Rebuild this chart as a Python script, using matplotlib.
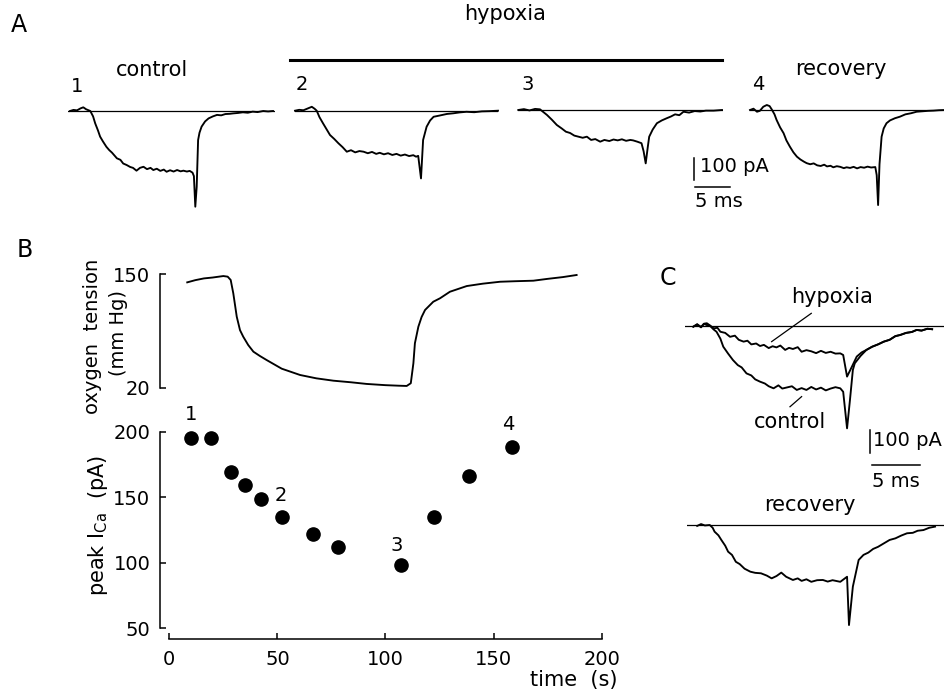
import matplotlib
matplotlib.use("Agg")
import matplotlib.pyplot as plt
from matplotlib.lines import Line2D

plt.rcParams['font.family'] = ['DejaVu Sans']

# ---------------- data ----------------
# Panel A traces: time (ms), current (pA)
t1 = [0, 0.5, 1.0, 1.5, 1.9, 2.3, 2.9, 3.3, 3.6, 4.0, 4.3, 4.7, 5.2, 5.6, 6.0, 6.7, 7.2, 7.6, 8.1, 8.6, 9.0,
      9.5, 10.0, 10.5, 11.0, 11.5, 11.9, 12.4, 12.9, 13.4, 13.8, 14.3, 14.8, 15.3, 15.8, 16.2, 16.7, 17.1,
      17.5, 17.7, 17.9, 18.1, 18.3, 18.5, 18.8, 19.3, 19.8, 20.4, 21.0, 21.6, 22.2, 22.8, 23.3, 24.0, 24.7,
      25.4, 26.1, 26.8, 27.6, 28.3, 29.0]
i1 = [0, 5, 3, 12, 17, 8, 0, -25, -57, -90, -118, -140, -165, -180, -192, -218, -225, -242, -249, -258, -262,
      -275, -262, -257, -268, -262, -272, -266, -276, -270, -280, -273, -279, -272, -278, -275, -279, -276,
      -284, -300, -441, -349, -134, -100, -72, -48, -34, -25, -18, -20, -14, -13, -11, -9, -6,
      -8, -3, -5, 0, -2, 0]

t2 = [0, 0.6, 1.2, 1.8, 2.4, 2.8, 3.1, 3.5, 4.0, 4.5, 5.0, 5.6, 6.2, 6.8, 7.4, 8.0, 8.6, 9.2, 9.8, 10.4, 11.0,
      11.6, 12.1, 12.7, 13.3, 13.9, 14.5, 15.1, 15.7, 16.3, 16.9, 17.3, 17.6, 18.0, 18.3, 18.8, 19.3, 19.8,
      20.7, 21.7, 22.6, 23.5, 24.5, 25.6, 26.7, 27.8, 29.0]
i2 = [0, 4, 2, 10, 18, 9, 0, -30, -58, -85, -112, -130, -150, -168, -189, -182, -192, -186, -189, -196, -190,
      -199, -194, -201, -196, -204, -199, -207, -202, -209, -205, -212, -208, -312, -135, -74, -45, -28,
      -22, -15, -12, -8, -5, -7, -3, -2, 0]

t3 = [0, 0.8, 1.6, 2.4, 3.1, 3.6, 4.1, 4.8, 5.5, 6.2, 6.8, 7.4, 8.0, 8.6, 9.2, 9.8, 10.4, 11.0, 11.7, 12.3,
      13.0, 13.6, 14.2, 14.8, 15.4, 16.0, 16.4, 17.0, 17.6, 17.9, 18.2, 18.5, 18.7, 19.2, 19.8, 20.5, 21.2,
      21.8, 22.4, 23.0, 23.6, 24.4, 25.2, 26.0, 26.8, 27.9, 29.1]
i3 = [0, 4, -2, 5, 3, -10, -23, -45, -69, -85, -100, -106, -118, -123, -128, -123, -138, -134, -146, -138,
      -143, -136, -140, -135, -142, -138, -140, -146, -153, -190, -246, -170, -123, -90, -61, -48, -38,
      -30, -20, -24, -8, -12, -5, -7, -3, -3, 0]

t4 = [0, 0.5, 1.0, 1.4, 1.9, 2.4, 2.8, 3.1, 3.5, 3.8, 4.3, 4.8, 5.2, 5.7, 6.2, 6.7, 7.2, 7.7, 8.1, 8.6, 9.1,
      9.6, 10.1, 10.6, 11.0, 11.5, 11.9, 12.4, 12.9, 13.4, 13.8, 14.3, 14.8, 15.3, 15.8, 16.3, 16.8, 17.3,
      17.9, 18.1, 18.3, 18.5, 18.8, 19.1, 19.5, 20.0, 20.7, 21.4, 22.2, 23.0, 23.8, 24.6, 25.4, 26.2, 27.0,
      27.9]
i4 = [0, 6, -8, -4, 15, 23, 18, 3, -20, -46, -80, -107, -140, -169, -195, -215, -228, -238, -245, -250, -246,
      -255, -258, -252, -260, -257, -264, -259, -262, -268, -264, -267, -262, -269, -263, -266, -261, -265,
      -263, -300, -438, -250, -123, -85, -61, -48, -38, -31, -20, -15, -8, -6, -4, -3, -1,
      0]

# Panel B: oxygen tension (mm Hg) vs time (s)
o2_time = [8.3, 12, 16, 20, 25.0, 27, 28.4, 29.6, 31.2, 32.7, 34.2, 36.5, 38.9, 41.9, 45.0, 52, 60.5, 68, 75.9,
           84, 91.3, 100, 106, 109.8, 111.7, 112.9, 113.6, 115.2, 116.7, 118.3, 122.1, 125.2, 129.8, 137.6,
           145, 153, 160, 168.4, 175, 182, 188.4]
o2_tension = [140.5, 143, 145, 146, 147.7, 147, 143.2, 128, 101.3, 86, 78.5, 69, 61.4, 56.5, 51.9, 42, 34.8,
              31, 28.3, 26.5, 24.6, 23.2, 22.6, 22.3, 25.4, 48.2, 71, 89.9, 101, 109, 118.4, 122.3, 129.8,
              136.3, 139, 141.2, 141.8, 142.4, 144.5, 146.5, 148.9]

# Panel B: peak ICa (pA) vs time (s)
peak_time = [9.9, 19.1, 28.4, 35.0, 42.3, 52.3, 66.3, 77.9, 107.0, 122.6, 138.8, 158.5]
peak_ica = [195, 195, 169, 159, 149, 135, 122, 112, 98, 135, 166, 188]
point_labels = {0: "1", 5: "2", 8: "3", 11: "4"}

# Panel C traces
tc_hyp = [0, 0.4, 0.8, 1.1, 1.4, 1.8, 2.1, 2.5, 2.8, 3.3, 3.8, 4.3, 4.7, 5.2, 5.6, 6.0, 6.5, 6.9, 7.3, 7.8,
          8.2, 8.6, 9.0, 9.5, 9.9, 10.3, 10.8, 11.2, 11.7, 12.2, 12.7, 13.2, 13.7, 14.2, 14.7, 15.2, 15.5,
          15.9, 16.4, 16.9, 17.4, 17.9, 18.5, 19.1, 19.7, 20.3, 20.9, 21.4, 22.0, 22.6, 23.1, 23.6, 24.2, 24.7]
ic_hyp = [-3, 8, -6, 10, 12, 0, -10, -8, -25, -30, -47, -42, -60, -68, -64, -80, -76, -87, -82, -96,
          -88, -93, -85, -104, -95, -100, -92, -112, -105, -110, -118, -108, -117, -112, -120, -119, -126,
          -220, -177, -133, -115, -104, -90, -80, -68, -60, -44, -39, -30, -26, -17, -20, -12, -14]

tc_ctl = [0, 0.4, 0.8, 1.1, 1.4, 1.7, 2.1, 2.4, 2.8, 3.1, 3.6, 4.1, 4.6, 5.0, 5.5, 6.0, 6.4, 6.9, 7.4, 7.8,
          8.3, 8.8, 9.2, 9.7, 10.2, 10.7, 11.2, 11.7, 12.2, 12.7, 13.2, 13.7, 14.2, 14.7, 15.2, 15.5, 15.9,
          16.2, 16.5, 16.7, 17.3, 17.9, 18.5, 19.1, 19.7, 20.3, 20.9, 21.4, 22.0, 22.6, 23.1, 23.6, 24.2, 24.7]
ic_ctl = [-3, 6, -4, 9, 4, 2, -15, -25, -55, -90, -120, -148, -170, -180, -206, -215, -232, -242, -250, -262,
          -271, -258, -272, -267, -262, -278, -270, -278, -265, -276, -268, -280, -272, -266, -271, -286, -445,
          -322, -191, -162, -130, -104, -90, -80, -68, -60, -44, -39, -30, -26, -17, -20, -12, -14]

tc_rec = [0.4, 0.8, 1.2, 1.7, 2.0, 2.2, 2.6, 2.9, 3.3, 3.6, 4.0, 4.4, 4.8, 5.3, 5.9, 6.4, 7.0, 7.6, 8.1, 8.6,
          9.1, 9.6, 10.3, 10.8, 11.2, 11.7, 12.2, 12.8, 13.4, 13.9, 14.4, 15.2, 15.9, 16.1, 16.5, 17.1, 17.6,
          18.1, 18.6, 19.1, 19.7, 20.3, 20.9, 21.5, 22.1, 22.7, 23.2, 23.8, 24.4, 25.0]
ic_rec = [-4, 4, -2, 0, -12, -29, -45, -65, -90, -116, -130, -160, -170, -190, -203, -208, -210, -220, -232,
          -222, -207, -225, -239, -232, -243, -236, -247, -240, -239, -246, -240, -247, -225, -435, -268,
          -152, -130, -120, -104, -95, -80, -65, -58, -46, -36, -34, -25, -22, -12, -7]

# ---------------- layout helpers (pixel based) ----------------
W, H = 945, 694
fig = plt.figure(figsize=(W / 100, H / 100), dpi=100)


def rect(x0, y0, x1, y1):
    return [x0 / W, 1 - y1 / H, (x1 - x0) / W, (y1 - y0) / H]


def ftext(x, y, s, **kw):
    kw.setdefault("ha", "center")
    kw.setdefault("va", "center")
    kw.setdefault("fontsize", 15)
    fig.text(x / W, 1 - y / H, s, **kw)


def trace_ax(left, base, tlim, ilim, sx, sy):
    x0 = left + tlim[0] * sx
    x1 = left + tlim[1] * sx
    ytop = base - ilim[1] * sy
    ybot = base - ilim[0] * sy
    ax = fig.add_axes(rect(x0, ytop, x1, ybot))
    ax.set_xlim(*tlim)
    ax.set_ylim(*ilim)
    ax.axis("off")
    return ax


LW = 1.35
BASE_LW = 0.9

# ---------------- Panel A ----------------
SXA, SYA = 7.0, 0.217
ILIM_A = (-470, 40)
a1 = trace_ax(70, 111, (-0.3, 29.3), ILIM_A, SXA, SYA)
a2 = trace_ax(295, 110.7, (0, 29.0), ILIM_A, SXA, SYA)
a3 = trace_ax(518.3, 110, (0, 29.2), ILIM_A, SXA, SYA)
a4 = trace_ax(750, 110, (0, 28.0), ILIM_A, SXA, SYA)
for ax, t, i in [(a1, t1, i1), (a2, t2, i2), (a3, t3, i3), (a4, t4, i4)]:
    ax.axhline(0, color="black", lw=BASE_LW)
    ax.plot(t, i, color="black", lw=LW, clip_on=False)

# scale bar (panel A) in trace-3 units
a3.plot([25.1, 25.1], [-222, -322], color="black", lw=1.1, clip_on=False)
a3.plot([25.2, 30.2], [-353, -353], color="black", lw=1.1, clip_on=False)
a3.text(25.9, -262, "100 pA", ha="left", va="center", fontsize=14, clip_on=False)
a3.text(25.2, -420, "5 ms", ha="left", va="center", fontsize=14, clip_on=False)

# hypoxia bar
fig.add_artist(Line2D([290 / W, 721.7 / W], [1 - 60 / H, 1 - 60 / H], color="black", lw=2.2))
ftext(19, 25, "A", fontsize=17)
ftext(505, 14, "hypoxia")
ftext(152, 70, "control")
ftext(841, 69, "recovery")
ftext(77, 87, "1", fontsize=14)
ftext(302, 85, "2", fontsize=14)
ftext(528, 85, "3", fontsize=14)
ftext(758, 85, "4", fontsize=14)

# ---------------- Panel B ----------------
XLIM_B = (-4.3, 200)
ax_o2 = fig.add_axes(rect(160, 270, 601.7, 392))
ax_o2.plot(o2_time, o2_tension, color="black", lw=LW)
ax_o2.set_xlim(*XLIM_B)
ax_o2.set_ylim(15.4, 154.6)
for s in ["top", "right", "bottom"]:
    ax_o2.spines[s].set_visible(False)
ax_o2.spines["left"].set_bounds(20, 150)
ax_o2.spines["left"].set_linewidth(1.1)
ax_o2.set_xticks([])
ax_o2.set_yticks([20, 150])
ax_o2.tick_params(axis="y", direction="in", length=4.5, width=1.1, labelsize=14, pad=7)
ftext(93, 336, "oxygen  tension", rotation=90, fontsize=14)
ftext(119, 333, "(mm Hg)", rotation=90, fontsize=14)

ax_pk = fig.add_axes(rect(160, 425, 601.7, 639))
ax_pk.plot(peak_time, peak_ica, "o", color="black", markersize=9.5, clip_on=False)
ax_pk.set_xlim(*XLIM_B)
ax_pk.set_ylim(41.84, 205.1)
for s in ["top", "right"]:
    ax_pk.spines[s].set_visible(False)
ax_pk.spines["left"].set_bounds(50, 200)
ax_pk.spines["bottom"].set_bounds(0, 200)
for s in ["left", "bottom"]:
    ax_pk.spines[s].set_linewidth(1.1)
ax_pk.set_yticks([50, 100, 150, 200])
ax_pk.set_xticks([0, 50, 100, 150, 200])
ax_pk.tick_params(axis="y", direction="in", length=4.5, width=1.1, labelsize=14, pad=7)
ax_pk.tick_params(axis="x", direction="in", length=4, width=1.1, labelsize=14, pad=8)
ftext(98, 525, r"peak $\mathregular{I_{Ca}}$  (pA)", rotation=90)
label_offsets = {"1": (0, 24), "2": (-2, 21), "3": (-4, 20), "4": (-4, 23)}
for idx, lab in point_labels.items():
    ax_pk.annotate(lab, (peak_time[idx], peak_ica[idx]), xytext=label_offsets[lab],
                   textcoords="offset pixels", ha="center", va="center", fontsize=14)
ftext(618, 680, "time  (s)", ha="right")
ftext(25, 250, "B", fontsize=17)

# ---------------- Panel C ----------------
SXC, SYC = 9.67, 0.23
c1 = trace_ax(693.3, 326, (-0.86, 26.0), (-470, 60), SXC, SYC)
c1.axhline(0, color="black", lw=BASE_LW)
c1.plot(tc_ctl, ic_ctl, color="black", lw=LW, clip_on=False)
c1.plot(tc_hyp, ic_hyp, color="black", lw=LW, clip_on=False)
c1.plot([12.2, 8.1], [55, -68], color="black", lw=0.9, clip_on=False)
c1.plot([11.2, 10.0], [-307, -351], color="black", lw=0.9, clip_on=False)
# scale bar (panel C)
c1.plot([18.27, 18.27], [-452, -552], color="black", lw=1.1, clip_on=False)
c1.plot([18.45, 23.45], [-604, -604], color="black", lw=1.1, clip_on=False)
c1.text(18.6, -500, "100 pA", ha="left", va="center", fontsize=14, clip_on=False)
c1.text(20.9, -674, "5 ms", ha="center", va="center", fontsize=14, clip_on=False)

c2 = trace_ax(693.3, 525, (-0.7, 26.0), (-470, 60), SXC, SYC)
c2.axhline(0, color="black", lw=BASE_LW)
c2.plot(tc_rec, ic_rec, color="black", lw=LW, clip_on=False)

ftext(668, 278, "C", fontsize=17)
ftext(832, 297, "hypoxia")
ftext(790, 422, "control")
ftext(810, 505, "recovery")

fig.savefig("out.png", dpi=100)
